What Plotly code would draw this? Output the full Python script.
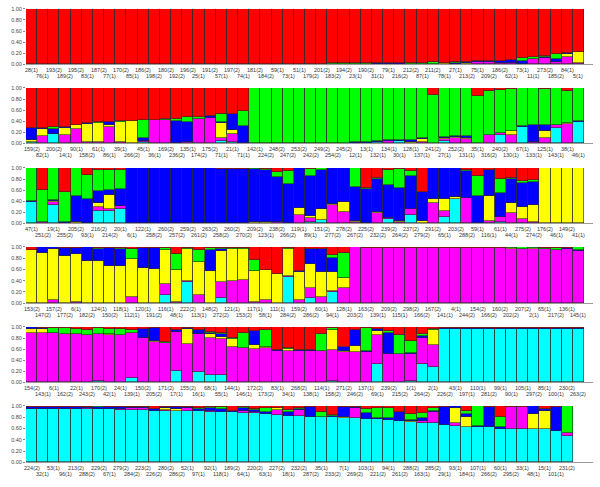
import plotly.graph_objects as go

# cluster order, bottom to top
CLUSTERS = ["cyan", "magenta", "yellow", "blue", "green", "red"]
COLORS = ["#00FFFF", "#FF00FF", "#FFFF00", "#0000FF", "#00FF00", "#FF0000"]

# each bar: (cyan, magenta, yellow, blue, green, red)
P1_LABELS = ["28(1)", "76(1)", "193(2)", "189(2)", "195(2)", "83(1)", "187(2)", "77(1)", "170(2)", "85(1)",
             "186(2)", "198(2)", "180(2)", "192(2)", "196(2)", "25(1)", "191(2)", "57(1)", "197(2)", "74(1)",
             "181(2)", "184(2)", "59(1)", "73(1)", "51(1)", "179(2)", "201(2)", "183(2)", "194(2)", "23(1)",
             "190(2)", "31(1)", "79(1)", "216(2)", "212(2)", "87(1)", "211(2)", "78(1)", "27(1)", "213(2)",
             "75(1)", "209(2)", "186(2)", "62(1)", "73(1)", "11(1)", "273(2)", "185(2)", "84(1)", "5(1)"]
P1 = [(0, 0, 0, 0, 0, 1.0)] * 22 + [
    (0, 0, 0, 0.01, 0, 0.99), (0, 0, 0, 0.01, 0, 0.99), (0, 0, 0, 0.01, 0, 0.99), (0, 0, 0, 0.01, 0, 0.99),
    (0, 0, 0, 0.01, 0, 0.99), (0, 0, 0, 0.01, 0.01, 0.98), (0, 0, 0, 0.01, 0.01, 0.98), (0, 0, 0, 0.01, 0.01, 0.98),
    (0, 0, 0, 0.01, 0.02, 0.97), (0, 0, 0, 0.02, 0.01, 0.97), (0, 0.01, 0, 0.02, 0, 0.97), (0, 0, 0, 0.03, 0, 0.97),
    (0, 0, 0, 0.01, 0.02, 0.97), (0, 0, 0, 0.01, 0.02, 0.97), (0, 0, 0, 0.01, 0.03, 0.96), (0, 0, 0.02, 0, 0.01, 0.97),
    (0, 0, 0.01, 0.01, 0.02, 0.96), (0, 0, 0.02, 0.02, 0, 0.96), (0, 0.05, 0, 0.01, 0, 0.94), (0, 0.05, 0, 0.01, 0, 0.94),
    (0, 0.02, 0, 0.04, 0, 0.94), (0, 0.03, 0, 0.04, 0, 0.93), (0, 0, 0, 0.06, 0.05, 0.89), (0, 0.09, 0, 0.01, 0.04, 0.86),
    (0, 0.12, 0, 0.02, 0.01, 0.85), (0, 0.05, 0, 0.04, 0.1, 0.81), (0, 0.14, 0.04, 0.02, 0, 0.80), (0, 0.02, 0.2, 0, 0, 0.78),
]

P2_LABELS = ["159(2)", "82(1)", "200(2)", "14(1)", "90(1)", "158(2)", "61(1)", "86(1)", "39(1)", "266(2)",
             "45(1)", "36(1)", "169(2)", "236(2)", "135(1)", "174(2)", "175(2)", "71(1)", "21(1)", "71(1)",
             "142(1)", "224(2)", "248(2)", "247(2)", "253(2)", "242(2)", "249(2)", "254(2)", "245(2)", "12(1)",
             "13(1)", "132(1)", "134(1)", "30(1)", "128(1)", "137(1)", "241(2)", "27(1)", "252(2)", "131(1)",
             "35(1)", "316(2)", "240(2)", "130(1)", "67(1)", "133(1)", "125(1)", "143(1)", "38(1)", "46(1)"]
P2 = [
    (0.02, 0, 0.04, 0.21, 0, 0.73), (0, 0.14, 0.12, 0.02, 0, 0.72), (0.17, 0, 0, 0.09, 0.04, 0.70),
    (0, 0.15, 0.13, 0.02, 0, 0.70), (0, 0.26, 0.07, 0, 0, 0.67), (0, 0.02, 0.33, 0.01, 0, 0.64),
    (0, 0.02, 0.34, 0, 0.02, 0.62), (0, 0.3, 0.03, 0.05, 0, 0.62), (0, 0.02, 0.37, 0, 0.01, 0.60),
    (0, 0, 0.4, 0, 0.01, 0.59), (0.03, 0.02, 0, 0.04, 0.33, 0.58), (0, 0.42, 0.01, 0, 0, 0.57),
    (0, 0.42, 0, 0, 0.02, 0.56), (0, 0.01, 0, 0.39, 0.04, 0.56), (0, 0.02, 0, 0.36, 0.09, 0.53),
    (0, 0.44, 0, 0, 0.03, 0.53), (0, 0.46, 0, 0.03, 0, 0.51), (0.05, 0.04, 0.28, 0.02, 0.14, 0.47),
    (0.02, 0.15, 0.07, 0.29, 0, 0.47), (0, 0, 0, 0.31, 0.27, 0.42),
] + [(0, 0, 0, 0, 1.0, 0)] * 8 + [
    (0, 0, 0, 0.01, 0.99, 0), (0, 0.01, 0, 0.01, 0.98, 0), (0, 0.01, 0, 0.02, 0.97, 0),
    (0.03, 0, 0, 0.01, 0.96, 0), (0, 0.05, 0, 0.01, 0.94, 0), (0.04, 0, 0, 0.02, 0.94, 0),
    (0, 0, 0.03, 0.03, 0.94, 0), (0, 0.02, 0.05, 0.02, 0.91, 0), (0, 0, 0, 0.01, 0.87, 0.12),
    (0.04, 0.03, 0.02, 0.02, 0.89, 0), (0, 0.1, 0.02, 0.01, 0.87, 0), (0, 0.08, 0.02, 0.03, 0.87, 0),
    (0, 0, 0, 0.01, 0.84, 0.15), (0, 0.15, 0, 0, 0.8, 0.05), (0.15, 0.03, 0, 0, 0.79, 0.03),
    (0, 0.15, 0.07, 0, 0.77, 0.01), (0.3, 0, 0, 0.01, 0.69, 0), (0, 0.02, 0, 0.32, 0.66, 0),
    (0, 0.1, 0.12, 0.11, 0.66, 0.01), (0.28, 0.05, 0, 0, 0.67, 0), (0, 0.35, 0.02, 0, 0.58, 0.05),
    (0.39, 0, 0, 0.02, 0.59, 0),
]

P3_LABELS = ["47(1)", "251(2)", "19(1)", "255(2)", "205(2)", "93(1)", "216(2)", "214(2)", "20(1)", "6(1)",
             "122(1)", "258(2)", "260(2)", "257(2)", "259(2)", "261(2)", "263(2)", "258(2)", "260(2)", "270(2)",
             "209(2)", "123(1)", "238(2)", "266(2)", "119(1)", "89(1)", "151(2)", "277(2)", "278(2)", "267(2)",
             "225(2)", "232(2)", "239(2)", "264(2)", "237(2)", "279(2)", "291(2)", "65(1)", "203(2)", "288(2)",
             "59(1)", "116(1)", "61(1)", "44(1)", "275(2)", "274(2)", "176(2)", "46(1)", "149(2)", "41(1)"]
P3 = [
    (0.38, 0, 0, 0.03, 0.59, 0), (0, 0.03, 0, 0, 0.57, 0.40), (0.34, 0.04, 0.02, 0.02, 0.58, 0),
    (0, 0, 0, 0.03, 0.54, 0.43), (0, 0, 0.02, 0.47, 0.51, 0), (0, 0, 0, 0.44, 0.43, 0.13),
    (0.22, 0.07, 0.08, 0.22, 0.38, 0.03), (0.22, 0.04, 0.25, 0.09, 0.37, 0.03), (0.26, 0.06, 0, 0.3, 0.34, 0.04),
] + [(0, 0, 0, 1.0, 0, 0)] * 8 + [
    (0, 0, 0, 0.98, 0, 0.02), (0, 0, 0.01, 0.98, 0, 0.01), (0, 0, 0, 0.99, 0, 0.01),
    (0, 0, 0.02, 0.97, 0.01, 0), (0, 0, 0.02, 0.94, 0.03, 0.01), (0, 0.02, 0, 0.81, 0.09, 0.08),
    (0, 0.01, 0, 0.70, 0.23, 0.06), (0, 0.15, 0.13, 0.72, 0, 0), (0.03, 0.07, 0.04, 0.71, 0.13, 0.02),
    (0.06, 0, 0.19, 0.72, 0.03, 0), (0, 0.33, 0.02, 0.65, 0, 0), (0, 0.2, 0.18, 0.62, 0, 0),
    (0, 0.02, 0.02, 0.62, 0.34, 0), (0, 0, 0, 0.62, 0.02, 0.36), (0, 0.18, 0.02, 0.6, 0.02, 0.18),
    (0.07, 0.03, 0, 0.6, 0.27, 0.03), (0, 0.02, 0.02, 0.59, 0.35, 0.02), (0.15, 0.1, 0, 0.6, 0.1, 0.05),
    (0, 0, 0.04, 0.53, 0, 0.43), (0, 0.36, 0.08, 0.56, 0, 0), (0.12, 0.1, 0.22, 0.56, 0, 0),
    (0.44, 0, 0.04, 0.52, 0, 0), (0, 0.45, 0, 0.5, 0.02, 0.03), (0, 0, 0, 0.49, 0.36, 0.15),
    (0, 0.05, 0.44, 0.47, 0, 0.04), (0.02, 0.1, 0, 0.43, 0.25, 0.2), (0, 0.18, 0.19, 0.43, 0.02, 0.18),
    (0, 0.07, 0.23, 0.43, 0.03, 0.24), (0, 0.03, 0.3, 0.42, 0.03, 0.22),
] + [(0, 0, 1.0, 0, 0, 0)] * 4

P4_LABELS = ["153(2)", "147(2)", "157(2)", "177(2)", "6(1)", "182(2)", "124(1)", "150(2)", "118(1)", "112(1)",
             "120(1)", "191(2)", "116(1)", "48(1)", "222(2)", "113(1)", "148(2)", "272(2)", "121(1)", "153(2)",
             "117(1)", "58(1)", "111(1)", "284(2)", "159(2)", "286(2)", "60(1)", "94(1)", "128(1)", "203(2)",
             "163(2)", "139(1)", "209(2)", "115(1)", "298(2)", "166(2)", "167(2)", "141(1)", "4(1)", "244(2)",
             "154(2)", "166(2)", "160(2)", "202(2)", "207(2)", "2(1)", "65(1)", "217(2)", "136(1)", "145(1)"]
P4 = [
    (0, 0, 0.95, 0, 0, 0.05), (0, 0, 0.9, 0.1, 0, 0), (0, 0.06, 0.91, 0.03, 0, 0),
    (0, 0, 0.84, 0.15, 0, 0.01), (0, 0.03, 0.84, 0.12, 0, 0.01), (0, 0, 0.75, 0.25, 0, 0),
    (0, 0, 0.75, 0.22, 0.02, 0.01), (0, 0, 0.67, 0.32, 0, 0.01), (0, 0, 0.67, 0.29, 0.02, 0.02),
    (0, 0.12, 0.67, 0, 0.17, 0.04), (0, 0.01, 0.62, 0.36, 0, 0.01), (0, 0, 0.61, 0.38, 0, 0.01),
    (0.15, 0.2, 0.6, 0, 0.03, 0.02), (0, 0.03, 0.57, 0, 0.28, 0.12), (0.38, 0.02, 0.57, 0, 0.01, 0.02),
    (0, 0.15, 0.58, 0, 0.21, 0.06), (0, 0.01, 0.56, 0.38, 0.03, 0.02), (0.1, 0.27, 0.56, 0.04, 0.01, 0.02),
    (0, 0.4, 0.57, 0, 0.02, 0.01), (0, 0.41, 0.56, 0, 0.02, 0.01), (0, 0.03, 0.55, 0, 0.19, 0.23),
    (0, 0.06, 0.53, 0, 0.01, 0.4), (0, 0, 0.52, 0, 0, 0.48), (0.47, 0.02, 0.48, 0, 0.02, 0.01),
    (0, 0.06, 0.49, 0.02, 0, 0.43), (0.1, 0.17, 0.43, 0.27, 0, 0.03), (0, 0.12, 0.43, 0.41, 0, 0.04),
    (0.2, 0.01, 0.35, 0.24, 0.05, 0.15), (0, 0.27, 0.18, 0, 0.45, 0.1), (0, 1.0, 0, 0, 0, 0),
] + [(0, 0.99, 0, 0, 0, 0.01)] * 6 + [(0, 0.98, 0, 0, 0.01, 0.01)] * 7 + [
    (0, 0.97, 0.02, 0, 0.01, 0), (0, 0.96, 0.01, 0, 0.03, 0), (0, 0.96, 0.02, 0, 0.02, 0),
    (0, 0.96, 0, 0.01, 0.02, 0.01), (0, 0.94, 0, 0.01, 0.03, 0.02), (0.01, 0.95, 0, 0.03, 0, 0.01),
    (0, 0.93, 0, 0.01, 0.06, 0),
]

P5_LABELS = ["154(2)", "143(1)", "6(1)", "162(2)", "22(1)", "243(2)", "170(2)", "42(1)", "24(1)", "139(1)",
             "150(2)", "205(2)", "171(2)", "17(1)", "155(2)", "16(1)", "68(1)", "55(1)", "144(1)", "146(1)",
             "172(2)", "173(2)", "83(1)", "34(1)", "268(2)", "138(1)", "114(1)", "158(2)", "271(2)", "246(2)",
             "137(1)", "69(1)", "239(2)", "215(2)", "1(1)", "264(2)", "2(1)", "226(2)", "43(1)", "197(1)",
             "110(1)", "281(2)", "99(1)", "90(1)", "105(1)", "297(2)", "85(1)", "100(1)", "230(2)", "263(2)"]
P5 = [
    (0, 0.9, 0.07, 0.03, 0, 0), (0, 0.89, 0.07, 0.03, 0, 0.01), (0, 0.89, 0, 0, 0.09, 0.02),
    (0, 0.87, 0, 0, 0.11, 0.02), (0, 0.87, 0, 0, 0.1, 0.03), (0, 0.85, 0, 0, 0.1, 0.05),
    (0.02, 0.86, 0, 0, 0.1, 0.02), (0, 0.85, 0.02, 0, 0.1, 0.03), (0, 0.85, 0, 0, 0.12, 0.03),
    (0.07, 0.83, 0, 0, 0.04, 0.06), (0, 0.8, 0, 0.17, 0, 0.03), (0, 0.72, 0.02, 0.24, 0, 0.02),
    (0, 0.71, 0, 0, 0.01, 0.28), (0.2, 0.71, 0, 0.04, 0, 0.05), (0, 0.7, 0.27, 0.01, 0, 0.02),
    (0.18, 0.69, 0, 0.08, 0, 0.05), (0.13, 0.67, 0.07, 0.03, 0.01, 0.09), (0.13, 0.65, 0.04, 0.05, 0.03, 0.1),
    (0, 0.64, 0.14, 0, 0.02, 0.2), (0, 0.62, 0, 0, 0.27, 0.11), (0, 0.61, 0.07, 0.25, 0, 0.07),
    (0, 0.62, 0.02, 0, 0.31, 0.05), (0, 0.57, 0, 0.02, 0, 0.41), (0, 0.57, 0.03, 0, 0.02, 0.38),
    (0, 0.56, 0, 0.02, 0, 0.42), (0, 0.57, 0, 0.01, 0, 0.42), (0, 0.57, 0, 0, 0.31, 0.12),
    (0.03, 0.56, 0.36, 0, 0.03, 0.02), (0, 0.54, 0.02, 0.08, 0, 0.36), (0, 0.54, 0.12, 0.29, 0, 0.05),
    (0, 0.55, 0, 0.01, 0.42, 0.02), (0.33, 0.53, 0.07, 0.04, 0, 0.03), (0, 0.52, 0, 0.38, 0.02, 0.08),
    (0, 0.52, 0, 0, 0.33, 0.15), (0.02, 0.5, 0, 0.01, 0.22, 0.25), (0.33, 0.48, 0, 0.02, 0.05, 0.12),
    (0.27, 0.4, 0.27, 0, 0.03, 0.03),
] + [(0.97, 0, 0, 0.02, 0, 0.01)] * 13

P6_LABELS = ["224(2)", "32(1)", "53(1)", "96(1)", "213(2)", "288(2)", "229(2)", "67(1)", "279(2)", "284(2)",
             "223(2)", "226(2)", "280(2)", "286(2)", "52(1)", "97(1)", "92(1)", "118(1)", "189(2)", "64(1)",
             "220(2)", "63(1)", "227(2)", "18(1)", "232(2)", "287(2)", "35(1)", "233(2)", "7(1)", "269(2)",
             "103(1)", "221(2)", "94(1)", "261(2)", "288(2)", "163(1)", "285(2)", "29(1)", "93(1)", "184(1)",
             "107(1)", "266(2)", "60(1)", "295(2)", "33(1)", "48(1)", "15(1)", "101(1)", "231(2)"]
P6 = [
    (0.95, 0, 0, 0.04, 0, 0.01), (0.95, 0, 0, 0.04, 0, 0.01), (0.94, 0, 0, 0.05, 0, 0.01),
    (0.94, 0, 0, 0.05, 0, 0.01), (0.94, 0, 0, 0.05, 0, 0.01), (0.94, 0.02, 0, 0.03, 0, 0.01),
    (0.94, 0, 0, 0.05, 0.01, 0), (0.94, 0, 0, 0.05, 0, 0.01), (0.93, 0.02, 0, 0.04, 0, 0.01),
    (0.93, 0.03, 0, 0.03, 0, 0.01), (0.93, 0.03, 0, 0.03, 0, 0.01), (0.92, 0, 0, 0.03, 0, 0.05),
    (0.92, 0.01, 0.04, 0.02, 0, 0.01), (0.91, 0.01, 0.03, 0.04, 0, 0.01), (0.91, 0.05, 0, 0.03, 0, 0.01),
    (0.91, 0, 0, 0.04, 0.01, 0.04), (0.9, 0.01, 0, 0.05, 0.02, 0.02), (0.9, 0, 0, 0.05, 0.04, 0.01),
    (0.89, 0, 0, 0.03, 0, 0.08), (0.88, 0.03, 0, 0.05, 0.02, 0.02), (0.87, 0.03, 0, 0.03, 0.02, 0.05),
    (0.86, 0, 0, 0.04, 0.07, 0.03), (0.84, 0.09, 0.03, 0.01, 0, 0.03), (0.82, 0.01, 0, 0.06, 0.04, 0.07),
    (0.82, 0.11, 0, 0.02, 0.02, 0.03), (0.81, 0, 0, 0.17, 0, 0.02), (0.8, 0, 0, 0.01, 0.08, 0.11),
    (0.8, 0, 0, 0.02, 0.02, 0.16), (0.78, 0, 0.03, 0.17, 0, 0.02), (0.78, 0.19, 0, 0.01, 0, 0.02),
    (0.77, 0, 0, 0.1, 0.07, 0.06), (0.77, 0, 0, 0.02, 0.17, 0.04), (0.76, 0, 0, 0.02, 0.18, 0.04),
    (0.73, 0, 0, 0.16, 0, 0.11), (0.71, 0, 0.03, 0.02, 0.1, 0.14), (0.7, 0.03, 0, 0.05, 0.1, 0.12),
    (0.7, 0.2, 0, 0.02, 0.04, 0.04), (0.66, 0, 0, 0.32, 0, 0.02), (0.65, 0.04, 0.27, 0.04, 0, 0),
    (0.63, 0, 0.18, 0.05, 0.05, 0.09), (0.63, 0, 0, 0.02, 0.35, 0), (0.62, 0, 0, 0.37, 0, 0.01),
    (0.6, 0, 0, 0.02, 0.18, 0.2), (0.6, 0.39, 0, 0, 0, 0.01), (0.59, 0.4, 0, 0, 0, 0.01),
    (0.59, 0, 0.27, 0.14, 0, 0), (0.59, 0, 0.33, 0.02, 0, 0.06), (0.55, 0, 0, 0.44, 0, 0.01),
    (0.47, 0.05, 0, 0, 0.48, 0),
]

PANELS = [(P1, P1_LABELS), (P2, P2_LABELS), (P3, P3_LABELS),
          (P4, P4_LABELS), (P5, P5_LABELS), (P6, P6_LABELS)]

W, H = 600, 487
TOPS = [6, 86, 167, 247, 328, 408]
BOTTOMS = [62, 142, 223, 304, 384, 465]
X0, X1 = 26, 593
BAR_PX = 11.16

fig = go.Figure()
annotations = []
layout = {}
for k, (rows, labels) in enumerate(PANELS):
    n = k + 1
    xa = "x" if n == 1 else f"x{n}"
    ya = "y" if n == 1 else f"y{n}"
    idx = list(range(len(rows)))
    for c, (name, color) in enumerate(zip(CLUSTERS, COLORS)):
        fig.add_trace(go.Bar(
            x=idx, y=[r[c] for r in rows], xaxis=xa, yaxis=ya,
            marker=dict(color=color, line=dict(color="#2a2a2a", width=0.6)),
            width=1, name=name, showlegend=False, hoverinfo="skip",
        ))
    layout[f"xaxis{n}"] = dict(
        domain=[X0 / W, X1 / W], anchor=ya,
        range=[-0.5, -0.5 + (X1 - X0) / BAR_PX],
        showticklabels=False, showgrid=False, zeroline=False,
        showline=True, linecolor="#9a9a9a", linewidth=1, ticks="",
    )
    layout[f"yaxis{n}"] = dict(
        domain=[1 - BOTTOMS[k] / H, 1 - TOPS[k] / H], anchor=xa,
        range=[0, 1], tickvals=[0, 0.2, 0.4, 0.6, 0.8, 1.0], tickformat=".2f",
        ticks="outside", ticklen=2, tickcolor="#888", tickwidth=1,
        tickfont=dict(size=5.5, color="#444", family="Arial"),
        showgrid=False, zeroline=False, showline=False,
    )
    for i, lab in enumerate(labels):
        annotations.append(dict(
            x=i, y=0, xref=xa, yref=ya, text=lab, showarrow=False,
            xanchor="center", yanchor="top", yshift=-1 if i % 2 == 0 else -7,
            font=dict(size=5.5, color="#333", family="Arial"),
        ))

fig.update_layout(
    width=W, height=H, barmode="stack", bargap=0,
    margin=dict(l=0, r=0, t=0, b=0),
    paper_bgcolor="white", plot_bgcolor="white",
    annotations=annotations, **layout,
)
fig.write_html("out.html", config={"displayModeBar": False},
               post_script="document.body.style.margin='0';")
